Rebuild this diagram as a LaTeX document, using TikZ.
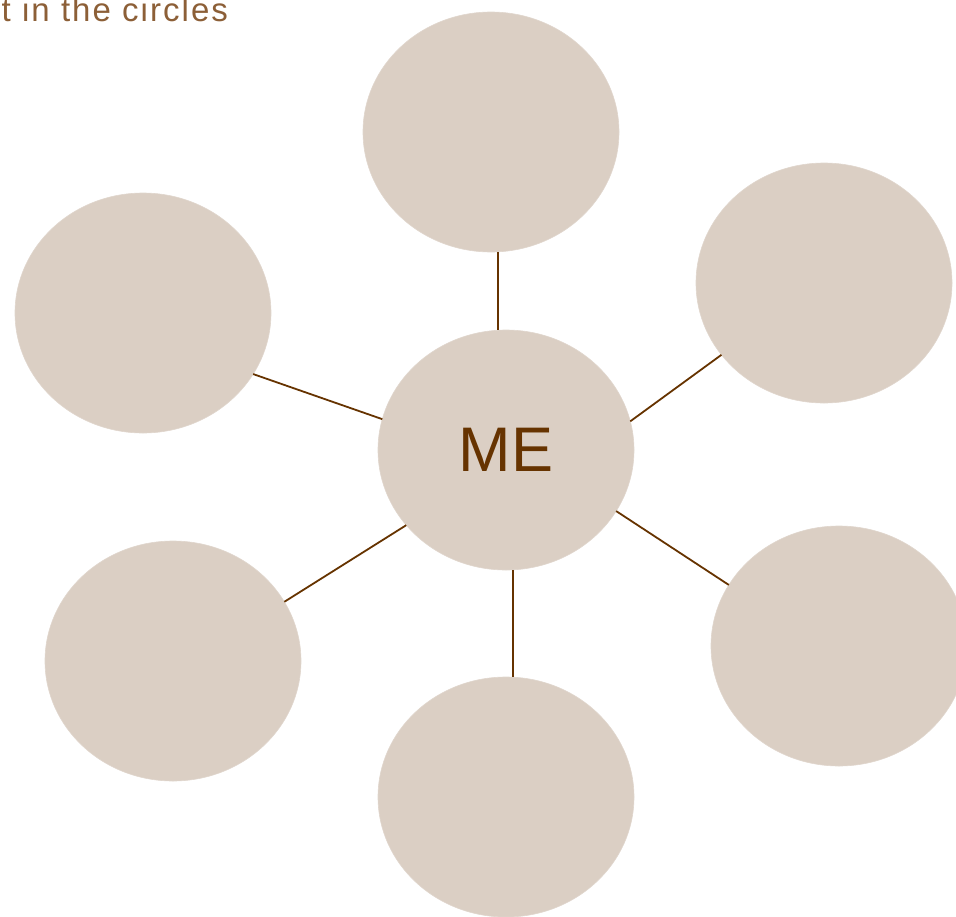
\documentclass[tikz,border=0pt]{standalone}
\usepackage{fontspec}
\setmainfont{Liberation Sans}
\usetikzlibrary{shapes.geometric}
\definecolor{bubblefill}{HTML}{DBCFC4}
\definecolor{linkbrown}{HTML}{663300}
\definecolor{notebrown}{HTML}{8C5F37}
\tikzset{
  x=1pt, y=-1pt, % one unit is one pixel, y runs downwards
  bubble/.style={ellipse, fill=bubblefill, draw=bubblefill!85!white,
    line width=0.6pt, minimum width=256pt, minimum height=240pt,
    inner sep=0pt, outer sep=0pt}, % the grey-brown circles
  link/.style={draw=linkbrown, line width=1.8pt}, % the spokes
}

\begin{document}
\begin{tikzpicture}[note/.style={text=notebrown, anchor=base west, inner sep=0pt,
    font=\fontsize{33}{33}\addfontfeature{LetterSpace=6.2}\selectfont}]
    \useasboundingbox (0,0) rectangle (956,916);
    \clip (0,0) rectangle (956,916);

    \node[note] (hint) at (1.5,21) {t in the circles};

    \node[bubble] (bubble_top) at (491,132) {};
    \node[bubble] (bubble_right_up) at (824,283) {};
    \node[bubble] (bubble_left_up) at (143,313) {};
    \node[bubble] (bubble_left_down) at (173,661) {};
    \node[bubble] (bubble_right_down) at (839,646) {};
    \node[bubble] (bubble_bottom) at (506,797) {};
    \node[bubble, text=linkbrown, font=\fontsize{63}{63}\selectfont] (me)
    at (506,450) {ME};

    \draw[link]
    ([xshift=-8pt]me.north) edge ([xshift=7pt]bubble_top.south)
    (me.13.1) edge (bubble_right_up.215.8)
    (me.166.4) edge (bubble_left_up.331.8)
    (me.217.4) edge (bubble_left_down.28.2)
    (me.331.8) edge (bubble_right_down.151.8)
    ([xshift=7pt]me.south) edge ([xshift=7pt]bubble_bottom.north)
    ;
  \end{tikzpicture}
\end{document}
